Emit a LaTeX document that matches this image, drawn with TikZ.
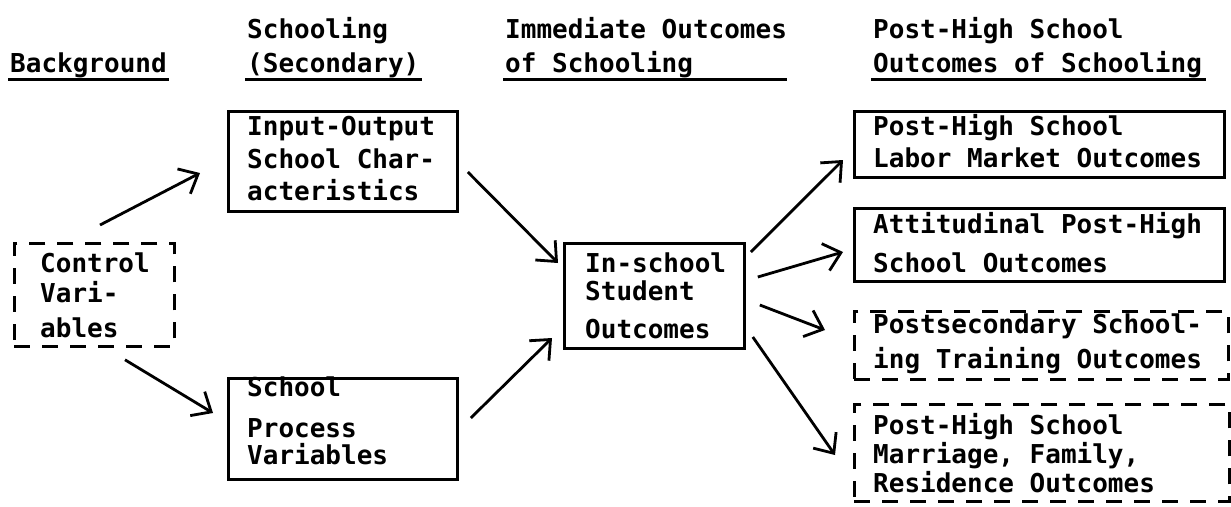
\documentclass[tikz,border=0pt]{standalone}
\usepackage{fontspec}
\newfontfamily\tw{DejaVu Sans Mono Bold}
\usetikzlibrary{arrows.meta}
\begin{document}
\begin{tikzpicture}[x=1pt,y=-1pt,
  txt/.style={anchor=base west, inner sep=0pt, font=\tw\fontsize{26}{32}\selectfont},
  box/.style={draw, line width=2.8pt, inner sep=0pt, anchor=north west},
  dbox/.style={box, dash pattern=on 16pt off 12pt},
  arr/.style={line width=2.8pt, -{Straight Barb[length=16pt,width=28pt]}},
  uline/.style={line width=3pt}]
\useasboundingbox[fill=white] (0,0) rectangle (1231,506);

% headings
\node[txt] (h0)  at (10,72)  {Background};
\node[txt] (h1a) at (247,38) {Schooling};
\node[txt] (h1b) at (247,72) {(Secondary)};
\node[txt] (h2a) at (505,38) {Immediate Outcomes};
\node[txt] (h2b) at (505,72) {of Schooling};
\node[txt] (h3a) at (873,38) {Post-High School};
\node[txt] (h3b) at (873,72) {Outcomes of Schooling};
\coordinate (h2e) at (h2a.base east |- h2b.base);
\draw[uline] ([shift={(-2,7)}]h0.base west) -- ([shift={(2,7)}]h0.base east);
\draw[uline] ([shift={(-2,7)}]h1b.base west) -- ([shift={(2,7)}]h1b.base east);
\draw[uline] ([shift={(-2,7)}]h2b.base west) -- ([shift={(0,7)}]h2e);
\draw[uline] ([shift={(-2,7)}]h3b.base west) -- ([shift={(4,7)}]h3b.base east);

% boxes
\node[dbox, minimum width=160pt, minimum height=103pt] (ctl) at (13,242) {};
\node[box,  minimum width=229pt, minimum height=100pt] (io)  at (227,110) {};
\node[box,  minimum width=229pt, minimum height=101pt] (sp)  at (227,377) {};
\node[box,  minimum width=180pt, minimum height=105pt] (in)  at (563,242) {};
\node[box,  minimum width=370pt, minimum height=66pt]  (lab) at (853,110) {};
\node[box,  minimum width=370pt, minimum height=73pt]  (att) at (853,207) {};
\node[dbox, minimum width=374pt, minimum height=68pt]  (pst) at (853,310) {};
\node[dbox, minimum width=375pt, minimum height=97pt]  (mar) at (853,403) {};

% box texts
\node[txt] (c1) at (40,272) {Control};
\node[txt] (c2) at (40,302) {Vari-};
\node[txt] (c3) at (40,337) {ables};
\node[txt] (i1) at (247,135) {Input-Output};
\node[txt] (i2) at (247,168) {School Char-};
\node[txt] (i3) at (247,200) {acteristics};
\node[txt] (s1) at (247,396) {School};
\node[txt] (s2) at (247,437) {Process};
\node[txt] (s3) at (247,464) {Variables};
\node[txt] (n1) at (585,272) {In-school};
\node[txt] (n2) at (585,300) {Student};
\node[txt] (n3) at (585,338) {Outcomes};
\node[txt] (l1) at (873,135) {Post-High School};
\node[txt] (l2) at (873,167) {Labor Market Outcomes};
\node[txt] (a1) at (873,233) {Attitudinal Post-High};
\node[txt] (a2) at (873,272) {School Outcomes};
\node[txt] (p1) at (873,333) {Postsecondary School-};
\node[txt] (p2) at (873,368) {ing Training Outcomes};
\node[txt] (m1) at (873,434) {Post-High School};
\node[txt] (m2) at (873,463) {Marriage, Family,};
\node[txt] (m3) at (873,492) {Residence Outcomes};

% connectors
\draw[arr] ([shift={(87,-17)}]ctl.north west) -- ([shift={(-27,63)}]io.north west);
\draw[arr] ([shift={(112,12)}]ctl.south west) -- ([shift={(-14,36)}]sp.north west);
\draw[arr] ([shift={(9,62)}]io.north east) -- ([shift={(-5,21)}]in.north west);
\draw[arr] ([shift={(12,41)}]sp.north east) -- ([shift={(-11,96)}]in.north west);
\draw[arr] ([shift={(5,10)}]in.north east) -- ([shift={(-10,50)}]lab.north west);
\draw[arr] ([shift={(12,35)}]in.north east) -- ([shift={(-10,45)}]att.north west);
\draw[arr] ([shift={(14,63)}]in.north east) -- ([shift={(-28,20)}]pst.north west);
\draw[arr] ([shift={(7,95)}]in.north east) -- ([shift={(-18,52)}]mar.north west);
\end{tikzpicture}
\end{document}
